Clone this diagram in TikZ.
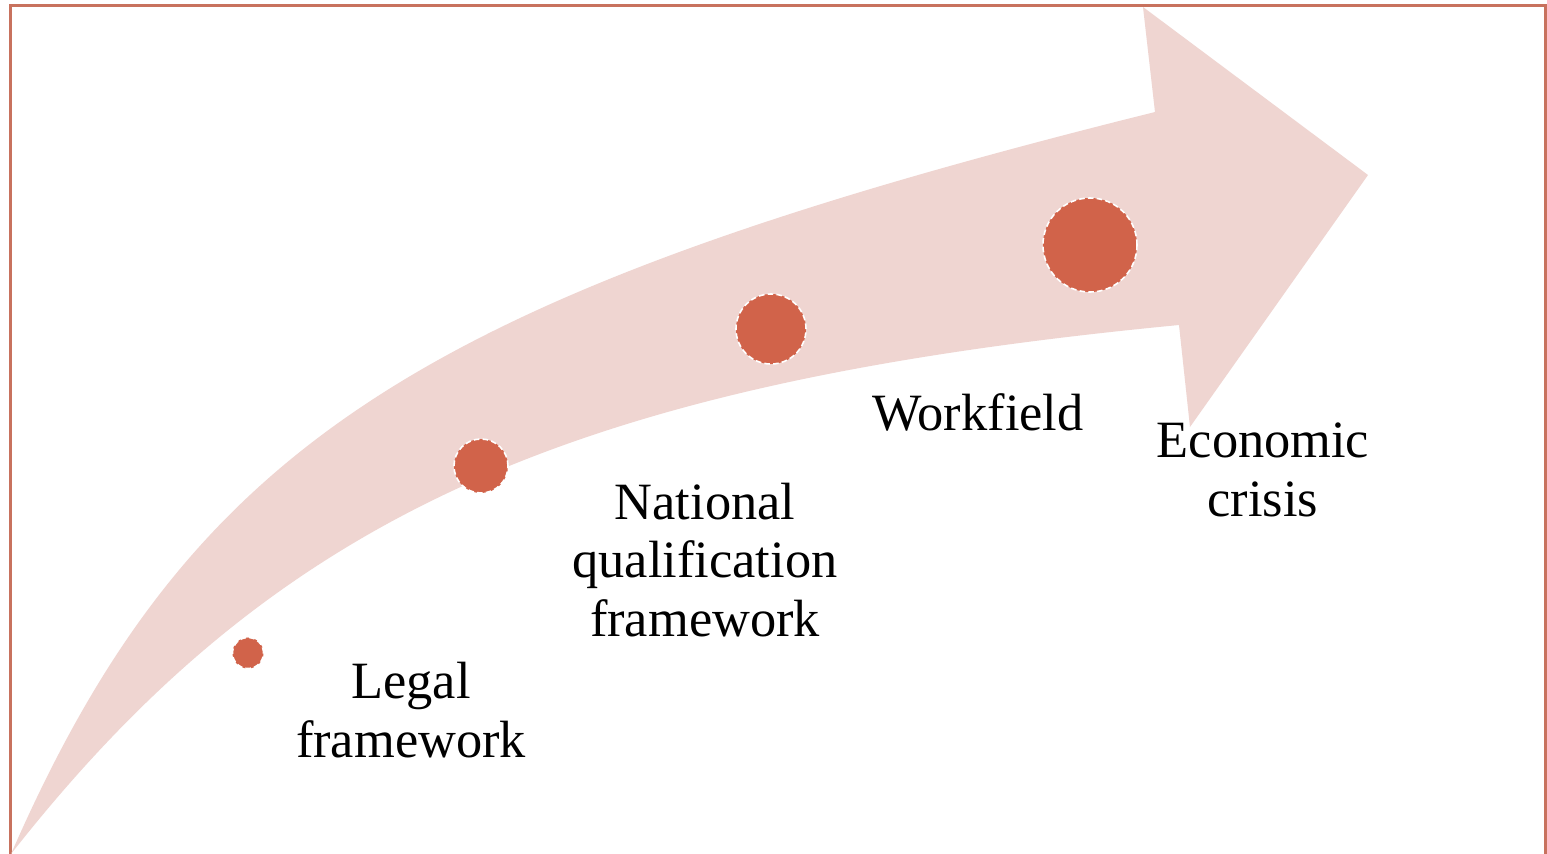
\documentclass[tikz,border=0pt]{standalone}
\usepackage{fontspec}
\setmainfont{Liberation Serif}
\begin{document}
\definecolor{framecol}{HTML}{C8725E}
\definecolor{arrowfill}{HTML}{EFD5D1}
\definecolor{dotfill}{HTML}{D1634A}
\begin{tikzpicture}[x=0.01cm, y=-0.01cm,
  dot/.style={circle, fill=dotfill, draw=white, line width=0.45pt,
              dash pattern=on 1.6pt off 0.9pt, inner sep=0pt},
  label/.style={align=center, anchor=base, inner sep=0pt,
                font=\fontsize{14.9pt}{16.5pt}\selectfont}]
  \useasboundingbox (0,0) rectangle (1547,854);
  \fill[white] (0,0) rectangle (1547,854);
  % outer frame (open at the bottom)
  \draw[framecol, line width=0.85pt] (10.5,856) -- (10.5,5.5) -- (1545.5,5.5) -- (1545.5,856);
  % curved block arrow
  \fill[arrowfill] (11,854)
      .. controls (190,445) and (420,295) .. (1155,112)
      -- (1143,7) -- (1368,175) -- (1190,427) -- (1179,325)
      .. controls (569,383.5) and (276.5,515.8) .. (11,854) -- cycle;
  % milestones
  \node[dot, minimum size=31*0.2845pt] (d1) at (248,653) {};
  \node[dot, minimum size=54*0.2845pt] (d2) at (481,466) {};
  \node[dot, minimum size=70*0.2845pt] (d3) at (771,329) {};
  \node[dot, minimum size=94*0.2845pt] (d4) at (1090,245) {};
  % labels (anchored at the baseline of their last line)
  \node[label] (t1) at (411,757) {Legal\\framework};
  \node[label] (t2) at (705,636) {National\\qualification\\framework};
  \node[label] (t3) at (978,430) {Workfield};
  \node[label] (t4) at (1263,516) {Economic\\crisis};
\end{tikzpicture}
\end{document}
